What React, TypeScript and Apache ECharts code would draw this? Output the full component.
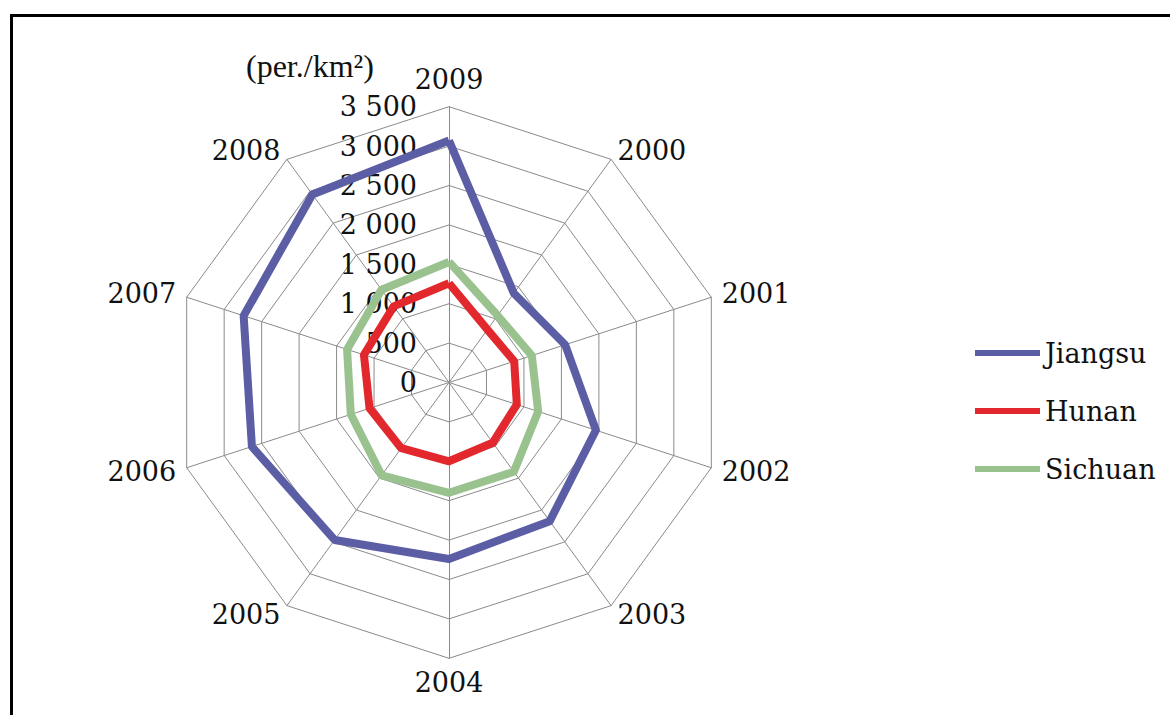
import React, { useEffect, useRef } from "react";
import * as echarts from "echarts";

// Years in chronological order
const years: string[] = ["2000", "2001", "2002", "2003", "2004", "2005", "2006", "2007", "2008", "2009"];

// Population density (per./km²), one value per year above
const jiangsu: number[] = [1400, 1550, 1960, 2175, 2240, 2470, 2630, 2740, 2950, 3070];
const hunan: number[] = [830, 870, 905, 945, 1000, 1030, 1060, 1135, 1195, 1260];
const sichuan: number[] = [1050, 1105, 1190, 1400, 1400, 1455, 1310, 1360, 1455, 1530];

const seriesNames: string[] = ["Jiangsu", "Hunan", "Sichuan"];
const seriesColors: string[] = ["#5b5ea4", "#e2282d", "#99c28e"];

const axisMax = 3500;
const axisSplit = 7;

// Radar draws indicators counter-clockwise; reference goes clockwise from 2009 at top.
const displayOrder: number[] = [9, 8, 7, 6, 5, 4, 3, 2, 1, 0];

const fmt = (v: number) => {
  const s = String(Math.round(v));
  return s.length > 3 ? s.slice(0, s.length - 3) + " " + s.slice(s.length - 3) : s;
};

export default function App() {
  const ref = useRef<HTMLDivElement>(null);

  useEffect(() => {
    if (!ref.current) return;
    const chart = echarts.init(ref.current, undefined, { renderer: "svg" });
    const indicator = displayOrder.map((i, k) =>
      k === 0
        ? { name: years[i], max: axisMax, min: 0, axisLabel: { show: true } }
        : { name: years[i], max: axisMax, min: 0 }
    );
    const allSeries = [jiangsu, hunan, sichuan];
    const gridColor = "#8a8a8a";
    chart.setOption({
      animation: false,
      color: seriesColors,
      title: {
        text: "(per./km²)",
        left: 246,
        top: 50,
        padding: 0,
        textStyle: {
          fontFamily: "Liberation Serif",
          fontSize: 32,
          fontWeight: "normal",
          color: "#111",
        },
      },
      legend: {
        orient: "vertical",
        left: 970,
        top: 333,
        itemWidth: 65,
        itemHeight: 6,
        itemGap: 28,
        icon: "rect",
        data: seriesNames,
        textStyle: {
          fontFamily: "DejaVu Serif",
          fontSize: 27,
          color: "#111",
          lineHeight: 30,
          padding: [0, 0, 0, 0],
        },
      },
      radar: {
        center: [449, 382.5],
        radius: 275.8,
        startAngle: 90,
        shape: "polygon",
        splitNumber: axisSplit,
        nameGap: 11,
        indicator,
        axisName: {
          fontFamily: "DejaVu Serif",
          fontSize: 27,
          color: "#111",
        },
        axisLine: { lineStyle: { color: gridColor, width: 1 } },
        splitLine: { lineStyle: { color: gridColor, width: 1 } },
        splitArea: { show: false },
        axisTick: { show: false },
        axisLabel: {
          show: false,
          margin: 32,
          fontFamily: "DejaVu Serif",
          fontSize: 27,
          color: "#111",
          formatter: (v: number) => fmt(v),
        },
      },
      series: [
        {
          type: "radar",
          symbol: "none",
          z: 3,
          lineStyle: { width: 8 },
          data: allSeries.map((vals, si) => ({
            name: seriesNames[si],
            value: displayOrder.map((i) => vals[i]),
            lineStyle: { color: seriesColors[si], width: 8 },
            itemStyle: { color: seriesColors[si] },
          })),
        },
      ],
    });
    return () => chart.dispose();
  }, []);

  return (
    <>
      <div
        style={{
          position: "absolute",
          left: 10,
          top: 14,
          width: 1160,
          height: 701,
          borderTop: "3px solid #000",
          borderLeft: "3px solid #000",
          boxSizing: "border-box",
        }}
      />
      <div
        ref={ref}
        style={{ position: "absolute", left: 0, top: 0, width: 1170, height: 715 }}
      />
    </>
  );
}
